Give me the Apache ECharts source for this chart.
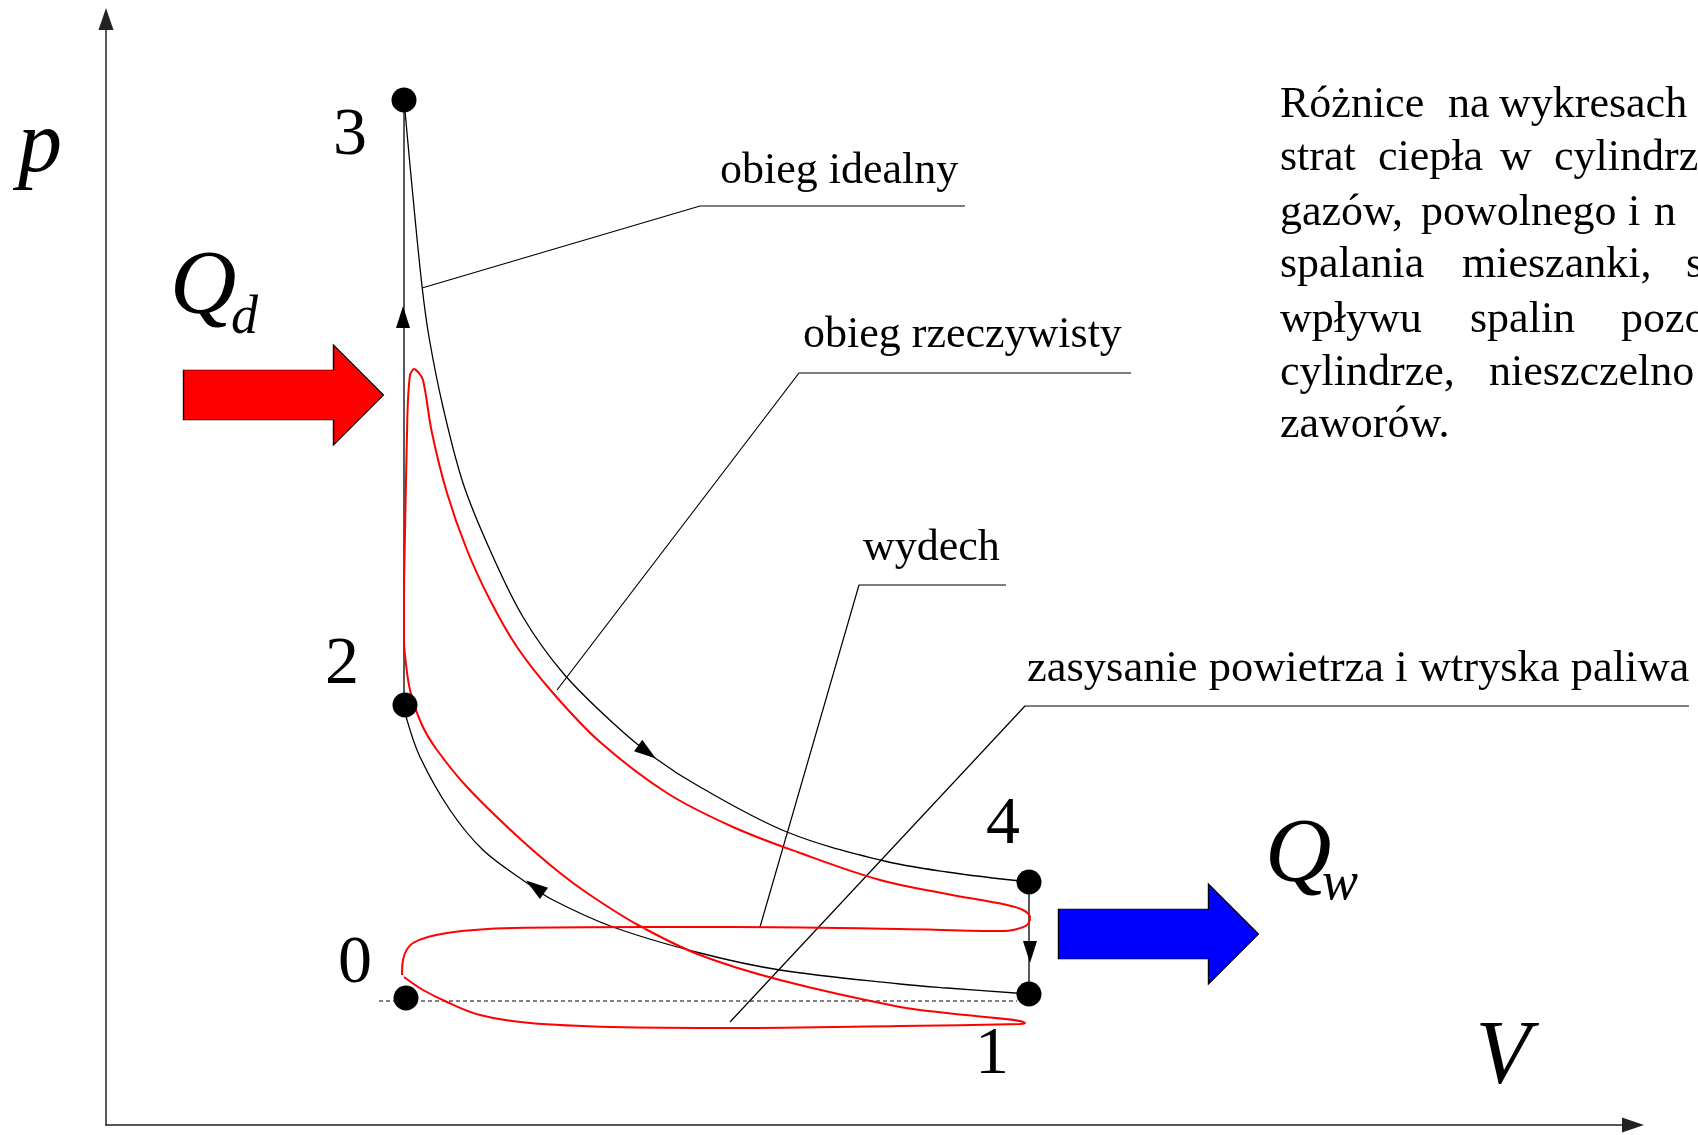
<!DOCTYPE html>
<html>
<head>
<meta charset="utf-8">
<title>Obieg Diesla - wykres p-V</title>
<script src="https://cdn.jsdelivr.net/npm/echarts@6/dist/echarts.min.js"></script>
<style>
  html, body { margin: 0; padding: 0; background: #fff; }
  #chart { width: 1698px; height: 1135px; }
</style>
</head>
<body>
<div id="chart"></div>
<script>
// wartości, jednostki umowne V / p
var idealExpansion = [[298,1025],[307,928],[316,839],[323,788],[337,718],[357,642],[384,575],[417,508],[457,452],[507,402],[549,367],[594,338],[681,293],[774,265],[841,253],[923,243]];
var idealCompression = [[923,131],[841,137],[794,141],[674,155],[594,172],[507,198],[447,225],[421,242],[377,275],[344,315],[314,368],[301,405],[299,420]];
var idealHeatIn = [[298,420],[298,1025]];
var idealHeatOut = [[923,243],[923,131]];
var atmosphereLine = [[273,124],[911,124]];
var realCycle = [
  [298,148],[317,135],[341,123],[374,110],[424,102],[507,98],[627,97],[794,99],[914,101],[919,102],
  [841,112],[794,118],[674,145],[594,170],[532,200],[484,230],[454,252],[411,289],[361,338],[331,375],[316,400],[304,435],[299,470],[298,485],
  [298,525],[299,592],[301,692],[302,725],[304,750],[306,754],[308,756],[312,753],[317,745],
  [326,692],[341,632],[361,575],[384,525],[411,478],[447,432],[494,383],[561,332],[627,298],[694,272],[774,245],[841,231],[901,220],[917,215],[924,208],[921,200],[907,195],[897,194],
  [794,196],[627,198],[541,198],[407,197],[341,192],[307,182],[297,165],[296,150]
];
var statePoints = [[300,127],[923,131],[299,420],[298,1025],[923,243]];
var stateNames = ['0', '1', '2', '3', '4'];
var flowArrows = [[297,808],[541,373],[924,173],[429,238]];
var flowAngles = [0, -126, 180, 54.5];
var heatArrows = [[177.5,730],[1052.5,191]];
var heatColors = ['#ff0000', '#0000ff'];
var leaderIdeal = [[316,837],[594,919],[859,919]];
var leaderReal = [[451,435],[693,752],[1025,752]];
var leaderExhaust = [[654,198],[753,540],[900,540]];
var leaderIntake = [[624,103],[919,419],[1583,419]];

var serif = '"Liberation Serif", "Times New Roman", serif';

function lineSeries(data, color, width, z, type, onNotes) {
  return {
    type: 'line',
    data: data,
    xAxisIndex: onNotes ? 1 : 0,
    yAxisIndex: onNotes ? 1 : 0,
    showSymbol: false,
    smooth: data.length > 3 ? 0.35 : false,
    silent: true,
    z: z,
    lineStyle: { color: color, width: width, type: type || 'solid' }
  };
}

function txt(text, x, y, size, opts) {
  opts = opts || {};
  return {
    type: 'text',
    x: x,
    y: y - 0.34 * size,
    silent: true,
    z: 100,
    style: {
      text: text,
      font: (opts.italic ? 'italic ' : '') + size + 'px ' + serif,
      fill: '#000',
      textAlign: opts.align || 'left',
      textVerticalAlign: 'middle'
    }
  };
}

// akapit po prawej (wyjustowany, ucięty przy krawędzi)
var paragraph = [
  [['Różnice', 1280], ['na', 1448], ['wykresach', 1499]],
  [['strat', 1280], ['ciepła', 1378], ['w', 1500], ['cylindrz', 1554]],
  [['gazów,', 1280], ['powolnego', 1421], ['i', 1628], ['n', 1654]],
  [['spalania', 1280], ['mieszanki,', 1462], ['s', 1686]],
  [['wpływu', 1280], ['spalin', 1470], ['pozo', 1621]],
  [['cylindrze,', 1280], ['nieszczelno', 1489]],
  [['zaworów.', 1280]]
];
var paraBase = [120, 173, 228, 280, 335, 388, 440];

var graphics = [
  txt('p', 18, 178, 88, { italic: true }),
  txt('V', 1503, 1090, 90, { italic: true, align: 'center' }),
  txt('Q', 170, 320, 92, { italic: true }),
  txt('d', 231, 337, 54, { italic: true }),
  txt('Q', 1265, 888, 92, { italic: true }),
  txt('w', 1322, 903, 54, { italic: true }),
  txt('3', 350, 159, 68, { align: 'center' }),
  txt('2', 342, 688, 68, { align: 'center' }),
  txt('0', 355, 987, 68, { align: 'center' }),
  txt('4', 1003, 848, 68, { align: 'center' }),
  txt('1', 992, 1078, 68, { align: 'center' }),
  txt('obieg idealny', 720, 186, 44),
  txt('obieg rzeczywisty', 803, 350, 44),
  txt('wydech', 863, 563, 44),
  txt('zasysanie powietrza i wtryska paliwa', 1027, 684, 44.5)
];
paragraph.forEach(function (line, i) {
  line.forEach(function (w) {
    graphics.push(txt(w[0], w[1], paraBase[i], 44));
  });
});

var axisCommon = {
  type: 'value',
  min: 0,
  splitLine: { show: false },
  axisTick: { show: false },
  axisLabel: { show: false },
  axisLine: {
    show: true,
    symbol: ['none', 'triangle'],
    symbolSize: [15, 22],
    lineStyle: { color: '#222', width: 1.5 }
  }
};
var hiddenAxis = { type: 'value', min: 0, show: false, gridIndex: 1 };

var option = {
  backgroundColor: '#fff',
  animation: false,
  grid: [
    { left: 106, top: 19, width: 1527, height: 1106 },
    // ta sama skala, szersza - dla linii opisów wychodzących poza oś V
    { left: 106, top: 19, width: 1592, height: 1106 }
  ],
  xAxis: [
    Object.assign({}, axisCommon, { max: 1527 }),
    Object.assign({}, hiddenAxis, { max: 1592 })
  ],
  yAxis: [
    Object.assign({}, axisCommon, { max: 1106 }),
    Object.assign({}, hiddenAxis, { max: 1106 })
  ],
  graphic: graphics,
  series: [
    lineSeries(atmosphereLine, '#000', 1, 2, [4, 3]),
    lineSeries(leaderIdeal, '#000', 1.2, 2, null, true),
    lineSeries(leaderReal, '#000', 1.2, 2, null, true),
    lineSeries(leaderExhaust, '#000', 1.2, 2, null, true),
    lineSeries(leaderIntake, '#000', 1.2, 2, null, true),
    lineSeries(idealExpansion, '#000', 1.3, 3),
    lineSeries(idealCompression, '#000', 1.3, 3),
    lineSeries(idealHeatIn, '#000', 1.3, 3),
    lineSeries(idealHeatOut, '#000', 1.3, 3),
    lineSeries(realCycle, '#ff0000', 2, 4),
    {
      type: 'scatter',
      silent: true,
      z: 5,
      symbol: 'triangle',
      symbolSize: [14, 22],
      itemStyle: { color: '#000', opacity: 1 },
      data: flowArrows.map(function (p, i) {
        return { value: p, symbolRotate: flowAngles[i] };
      })
    },
    {
      type: 'scatter',
      silent: true,
      z: 6,
      symbol: 'circle',
      symbolSize: 25,
      itemStyle: { color: '#000', opacity: 1 },
      data: statePoints.map(function (p, i) {
        return { name: stateNames[i], value: p };
      })
    },
    {
      type: 'scatter',
      silent: true,
      z: 6,
      symbol: 'path://M0,25L150,25L150,0L200,50L150,100L150,75L0,75Z',
      symbolSize: [200, 100],
      symbolKeepAspect: false,
      data: heatArrows.map(function (p, i) {
        return {
          value: p,
          itemStyle: { color: heatColors[i], opacity: 1, borderColor: '#000', borderWidth: 1 }
        };
      })
    }
  ]
};

var myChart = echarts.init(document.getElementById('chart'));
myChart.setOption(option);
</script>
</body>
</html>
